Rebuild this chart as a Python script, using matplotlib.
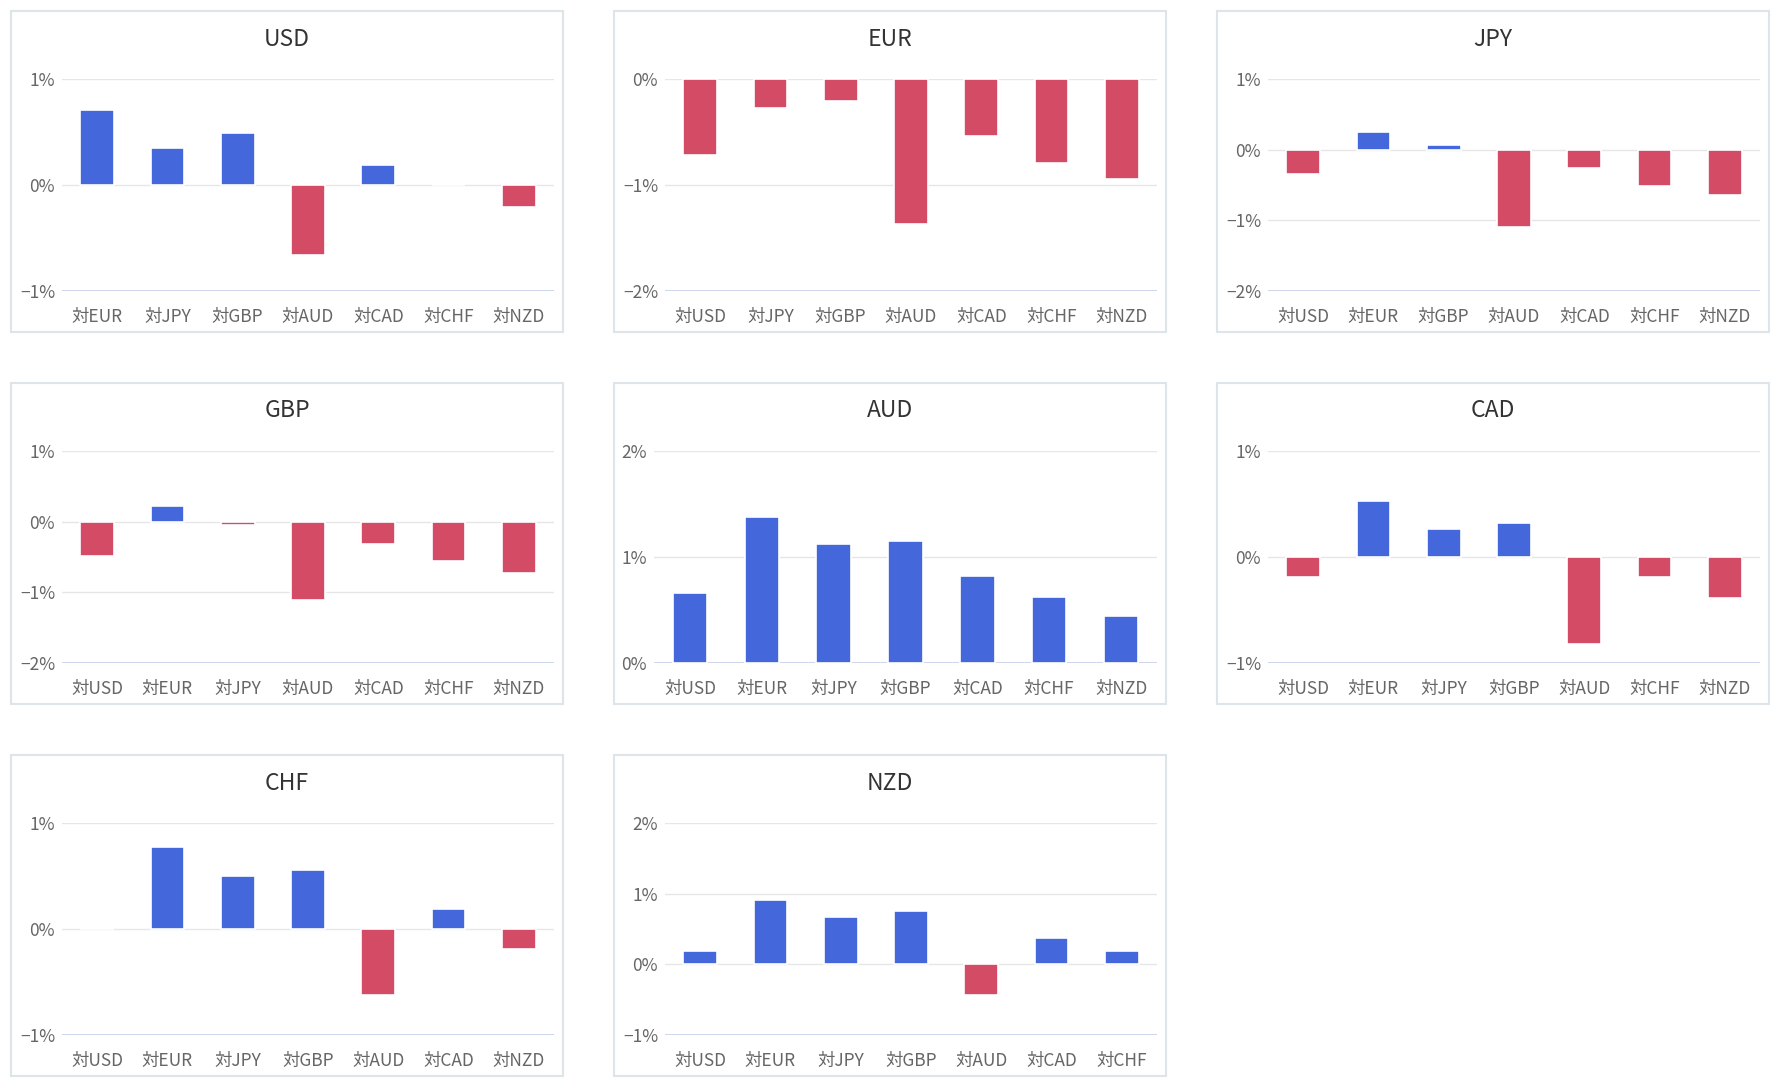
import matplotlib
matplotlib.use('Agg')
import matplotlib.pyplot as plt
from matplotlib.patches import Rectangle

plt.rcParams['font.family'] = ['Noto Sans CJK JP', 'DejaVu Sans']

# Data (% change)
currencies = ['USD', 'EUR', 'JPY', 'GBP', 'AUD', 'CAD', 'CHF', 'NZD']

usd_vals = [0.71, 0.35, 0.49, -0.66, 0.19, 0.0, -0.21]
eur_vals = [-0.72, -0.27, -0.21, -1.37, -0.54, -0.79, -0.94]
jpy_vals = [-0.35, 0.25, 0.06, -1.10, -0.26, -0.51, -0.64]
gbp_vals = [-0.48, 0.22, -0.05, -1.11, -0.32, -0.55, -0.73]
aud_vals = [0.66, 1.38, 1.12, 1.15, 0.82, 0.62, 0.44]
cad_vals = [-0.19, 0.53, 0.26, 0.32, -0.82, -0.19, -0.39]
chf_vals = [0.0, 0.77, 0.50, 0.56, -0.62, 0.19, -0.19]
nzd_vals = [0.19, 0.91, 0.67, 0.76, -0.44, 0.37, 0.19]

all_vals = [usd_vals, eur_vals, jpy_vals, gbp_vals, aud_vals, cad_vals, chf_vals, nzd_vals]

y_min = [-1, -2, -2, -2, 0, -1, -1, -1]
y_max = [1, 0, 1, 1, 2, 1, 1, 2]

BLUE = '#4567dc'
RED = '#d34b65'

W, H = 1780, 1088
fig = plt.figure(figsize=(W / 100, H / 100), dpi=100)
fig.patch.set_facecolor('white')

col_x = [11, 614, 1217]
row_y = [11, 383, 755]
pw, ph = 552, 321


def fmt_pct(v):
    s = f"{int(v)}%"
    return s.replace('-', '\u2212')


for i, cur in enumerate(currencies):
    r, c = divmod(i, 3)
    x0, y0 = col_x[c], row_y[r]

    # panel frame
    fig.add_artist(Rectangle((x0 / W, 1 - (y0 + ph) / H), pw / W, ph / H,
                             transform=fig.transFigure, fill=False,
                             edgecolor='#dde5e8', linewidth=1.5))

    left_off = 40 if y_min[i] >= 0 else 51
    ax = fig.add_axes([(x0 + left_off) / W, 1 - (y0 + 280) / H,
                       (pw - 9 - left_off) / W, 212 / H])

    labels = ['対' + c2 for c2 in currencies if c2 != cur]
    vals = all_vals[i]
    colors = [BLUE if v >= 0 else RED for v in vals]
    ax.bar(range(len(vals)), vals, width=0.48, color=colors,
           edgecolor='white', linewidth=1.2, zorder=3)

    ax.set_xlim(-0.5, len(vals) - 0.5)
    ax.set_ylim(y_min[i], y_max[i])
    ticks = list(range(y_min[i], y_max[i] + 1))
    ax.set_yticks(ticks)
    ax.set_yticklabels([fmt_pct(t) for t in ticks])
    ax.set_xticks(range(len(vals)))
    ax.set_xticklabels(labels)

    ax.yaxis.grid(True, color='#e6e6e6', linewidth=1.0, zorder=0)
    ax.set_axisbelow(True)
    ax.axhline(y_min[i], color='#ccd6eb', linewidth=1.4, zorder=2)
    for sp in ax.spines.values():
        sp.set_visible(False)
    ax.tick_params(axis='both', length=0, labelsize=12.5, colors='#666666')
    ax.tick_params(axis='x', pad=12)
    ax.tick_params(axis='y', pad=5)
    ax.set_facecolor('none')

    fig.text((x0 + pw / 2) / W, 1 - (y0 + 28) / H, cur, ha='center', va='center',
             fontsize=16.5, color='#333333')

plt.savefig('out.png', dpi=100)
